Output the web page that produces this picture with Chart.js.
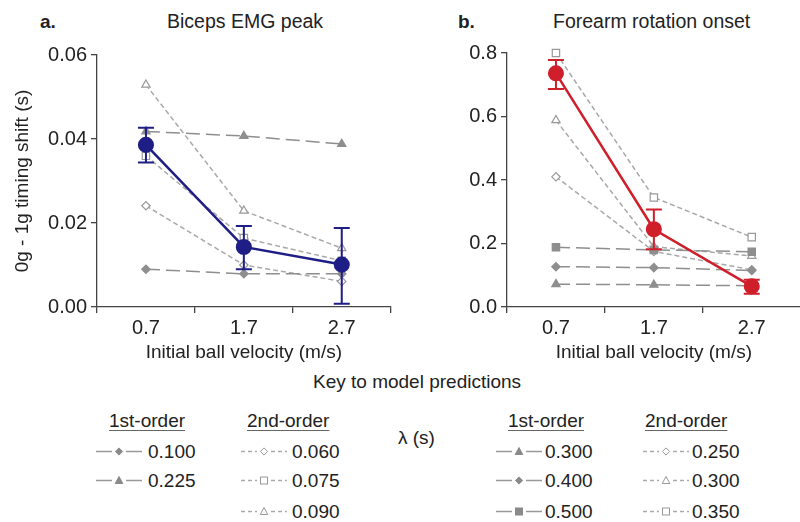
<!DOCTYPE html>
<html>
<head>
<meta charset="utf-8">
<script src="https://cdn.jsdelivr.net/npm/chart.js@4/dist/chart.umd.min.js"></script>
<style>
  body { margin: 0; width: 800px; height: 522px; overflow: hidden; background: #fff;
         font-family: "Liberation Sans", Arial, sans-serif; color: #222; position: relative; }
  .t { position: absolute; font-size: 19px; line-height: 19px; white-space: nowrap; }
  .hd { text-decoration: underline; text-decoration-color: #666; text-underline-offset: 3px; }
  .panel { position: absolute; top: 0; height: 370px; }
  svg.s { position: absolute; }
</style>
</head>
<body>
<div class="t" style="left:40px;top:12px;font-weight:bold">a.</div>
<div class="t" style="left:167px;top:12px;font-size:19.5px">Biceps EMG peak</div>
<div class="t" style="left:458px;top:12px;font-weight:bold">b.</div>
<div class="t" style="left:553px;top:12px;font-size:19.5px">Forearm rotation onset</div>

<div class="panel" style="left:0;width:400px"><canvas id="chartA"></canvas></div>
<div class="panel" style="left:400px;width:410px"><canvas id="chartB"></canvas></div>

<div id="legend"></div>

<script>
// x categories (initial ball velocity, m/s)
const velocities = ['0.7', '1.7', '2.7'];

// panel a: biceps EMG peak
const meanA = [0.0386, 0.0143, 0.0101];
const errLowA = [0.0344, 0.0090, 0.0008];
const errHighA = [0.0427, 0.0193, 0.0188];
const lambdaFirstA = ['0.100', '0.225'];
const firstA = [
  [0.0090, 0.0079, 0.0079],
  [0.0418, 0.0407, 0.0388]
];
const lambdaSecondA = ['0.060', '0.075', '0.090'];
const secondA = [
  [0.0241, 0.0100, 0.0061],
  [0.0360, 0.0164, 0.0110],
  [0.0529, 0.0229, 0.0140]
];

// panel b: forearm rotation onset
const meanB = [0.736, 0.245, 0.065];
const errLowB = [0.687, 0.182, 0.042];
const errHighB = [0.778, 0.307, 0.086];
const lambdaFirstB = ['0.300', '0.400', '0.500'];
const firstB = [
  [0.072, 0.070, 0.067],
  [0.127, 0.124, 0.115],
  [0.188, 0.180, 0.174]
];
const lambdaSecondB = ['0.250', '0.300', '0.350'];
const secondB = [
  [0.410, 0.175, 0.117],
  [0.588, 0.190, 0.161],
  [0.800, 0.345, 0.220]
];

const yTicksA = { max: 0.06, step: 0.02, digits: 2 };
const yTicksB = { max: 0.8, step: 0.2, digits: 1 };

const shapesFirstA = ['rectRot', 'triangle'];
const shapesSecondA = ['rectRot', 'rect', 'triangle'];
const shapesFirstB = ['triangle', 'rectRot', 'rect'];
const shapesSecondB = ['rectRot', 'triangle', 'rect'];

const GRAY1 = '#8e8e8e', GRAY2 = '#a8a8a8', AXIS = '#444';

function markerRadius(shape) {
  return shape === 'rect' ? 5.2 : shape === 'triangle' ? 4.8 : 4.2;
}

function modelSet(label, data, first, shape) {
  return {
    label: label,
    data: data,
    clip: false,
    borderColor: first ? GRAY1 : GRAY2,
    borderWidth: 1.5,
    borderDash: first ? [14, 6] : [5, 3],
    pointStyle: shape,
    pointRadius: markerRadius(shape),
    pointBackgroundColor: first ? GRAY1 : '#fff',
    pointBorderColor: first ? GRAY1 : '#999',
    pointBorderWidth: 1.2,
    tension: 0
  };
}

function meanSet(data, color) {
  return {
    label: 'mean',
    data: data,
    clip: false,
    borderColor: color,
    backgroundColor: color,
    borderWidth: 2.5,
    pointRadius: 6.8,
    pointBackgroundColor: color,
    pointBorderColor: color,
    tension: 0
  };
}

// draws the vertical error bars for dataset 0
const errorBars = {
  id: 'errorBars',
  afterDatasetsDraw(chart, args, opts) {
    const meta = chart.getDatasetMeta(0);
    const y = chart.scales.y;
    const ctx = chart.ctx;
    ctx.save();
    ctx.strokeStyle = opts.color;
    ctx.lineWidth = 2;
    opts.low.forEach(function(lo, i) {
      const x = meta.data[i].x;
      const y1 = y.getPixelForValue(lo);
      const y2 = y.getPixelForValue(opts.high[i]);
      ctx.beginPath();
      ctx.moveTo(x, y1); ctx.lineTo(x, y2);
      ctx.moveTo(x - 8, y1); ctx.lineTo(x + 8, y1);
      ctx.moveTo(x - 8, y2); ctx.lineTo(x + 8, y2);
      ctx.stroke();
    });
    ctx.restore();
  }
};

function makePanel(id, datasets, ticks, err, color, yTitle, yWidth, padTop, padRight) {
  const canvas = document.getElementById(id);
  return new Chart(canvas.getContext('2d'), {
    type: 'line',
    data: { labels: velocities, datasets: datasets },
    plugins: [errorBars],
    options: {
      responsive: true,
      maintainAspectRatio: false,
      animation: false,
      layout: { padding: { top: padTop, right: padRight, left: 0, bottom: 0 } },
      plugins: {
        legend: { display: false },
        tooltip: { enabled: false },
        errorBars: { low: err[0], high: err[1], color: color }
      },
      scales: {
        x: {
          type: 'category',
          offset: true,
          afterFit: function(s) { s.height = 63; },
          grid: { drawOnChartArea: false, offset: true, color: AXIS, tickLength: 6, lineWidth: 1.3 },
          border: { display: true, color: AXIS, width: 1.3 },
          ticks: { color: '#222', padding: 3, font: { size: 20, family: 'Liberation Sans' } },
          title: { display: true, text: 'Initial ball velocity (m/s)', color: '#222',
                   padding: { bottom: 6, top: 0 }, font: { size: 19, family: 'Liberation Sans' } }
        },
        y: {
          min: 0,
          max: ticks.max,
          afterFit: function(s) { s.width = yWidth; },
          grid: { drawOnChartArea: false, color: AXIS, tickLength: 6, lineWidth: 1.3 },
          border: { display: true, color: AXIS, width: 1.3 },
          ticks: {
            stepSize: ticks.step, color: '#222', padding: 4,
            font: { size: 20, family: 'Liberation Sans' },
            callback: function(v) { return Number(v).toFixed(ticks.digits); }
          },
          title: { display: !!yTitle, text: yTitle, color: '#222',
                   padding: { top: 11, bottom: 0 }, font: { size: 19, family: 'Liberation Sans' } }
        }
      }
    }
  });
}

const setsA = [meanSet(meanA, '#1e1e86')];
firstA.forEach(function(d, i) { setsA.push(modelSet(lambdaFirstA[i], d, true, shapesFirstA[i])); });
secondA.forEach(function(d, i) { setsA.push(modelSet(lambdaSecondA[i], d, false, shapesSecondA[i])); });

const setsB = [meanSet(meanB, '#cf1f2b')];
firstB.forEach(function(d, i) { setsB.push(modelSet(lambdaFirstB[i], d, true, shapesFirstB[i])); });
secondB.forEach(function(d, i) { setsB.push(modelSet(lambdaSecondB[i], d, false, shapesSecondB[i])); });

makePanel('chartA', setsA, yTicksA, [errLowA, errHighA], '#1e1e86', '0g - 1g timing shift (s)', 97, 55, 5);
makePanel('chartB', setsB, yTicksB, [errLowB, errHighB], '#cf1f2b', '', 107, 53, 3);

// key to model predictions
const legend = document.getElementById('legend');
const rowTops = [442, 471, 502];

function text(str, left, top, cls) {
  const d = document.createElement('div');
  d.className = 't' + (cls ? ' ' + cls : '');
  d.style.left = left + 'px';
  d.style.top = top + 'px';
  d.textContent = str;
  legend.appendChild(d);
}

function markerSvg(shape, cx, cy, fill, stroke) {
  if (shape === 'rectRot') {
    return '<polygon points="' + cx + ',' + (cy - 3.6) + ' ' + (cx + 3.6) + ',' + cy + ' ' + cx + ',' + (cy + 3.6) + ' ' + (cx - 3.6) + ',' + cy + '" fill="' + fill + '" stroke="' + stroke + '"/>';
  }
  if (shape === 'triangle') {
    return '<polygon points="' + cx + ',' + (cy - 4) + ' ' + (cx + 3.8) + ',' + (cy + 3) + ' ' + (cx - 3.8) + ',' + (cy + 3) + '" fill="' + fill + '" stroke="' + stroke + '"/>';
  }
  return '<rect x="' + (cx - 3.5) + '" y="' + (cy - 3.5) + '" width="7" height="7" fill="' + fill + '" stroke="' + stroke + '"/>';
}

function sample(shape, first, left, top) {
  const w = 46, cy = 9.5, cx = 23;
  const col = first ? '#999' : '#aaa';
  const dash = first ? '' : ' stroke-dasharray="4,3"';
  let s = '<svg class="s" width="' + w + '" height="19" style="left:' + left + 'px;top:' + top + 'px">';
  s += '<line x1="0" y1="' + cy + '" x2="' + (cx - 7) + '" y2="' + cy + '" stroke="' + col + '" stroke-width="1.5"' + dash + '/>';
  s += '<line x1="' + (cx + 7) + '" y1="' + cy + '" x2="' + w + '" y2="' + cy + '" stroke="' + col + '" stroke-width="1.5"' + dash + '/>';
  s += markerSvg(shape, cx, cy, first ? '#8a8a8a' : '#fff', first ? '#8a8a8a' : '#999');
  s += '</svg>';
  legend.insertAdjacentHTML('beforeend', s);
}

function column(head, headLeft, lambdas, shapes, first, sampleLeft, textLeft) {
  text(head, headLeft, 411, 'hd');
  lambdas.forEach(function(l, i) {
    sample(shapes[i], first, sampleLeft, rowTops[i]);
    text(l, textLeft, rowTops[i]);
  });
}

text('Key to model predictions', 313, 372);
text('\u03bb (s)', 398, 428);
column('1st-order', 109, lambdaFirstA, shapesFirstA, true, 96, 148);
column('2nd-order', 247, lambdaSecondA, shapesSecondA, false, 241, 292);
column('1st-order', 508, lambdaFirstB, shapesFirstB, true, 496, 545);
column('2nd-order', 645, lambdaSecondB, shapesSecondB, false, 643, 692);
</script>
</body>
</html>
